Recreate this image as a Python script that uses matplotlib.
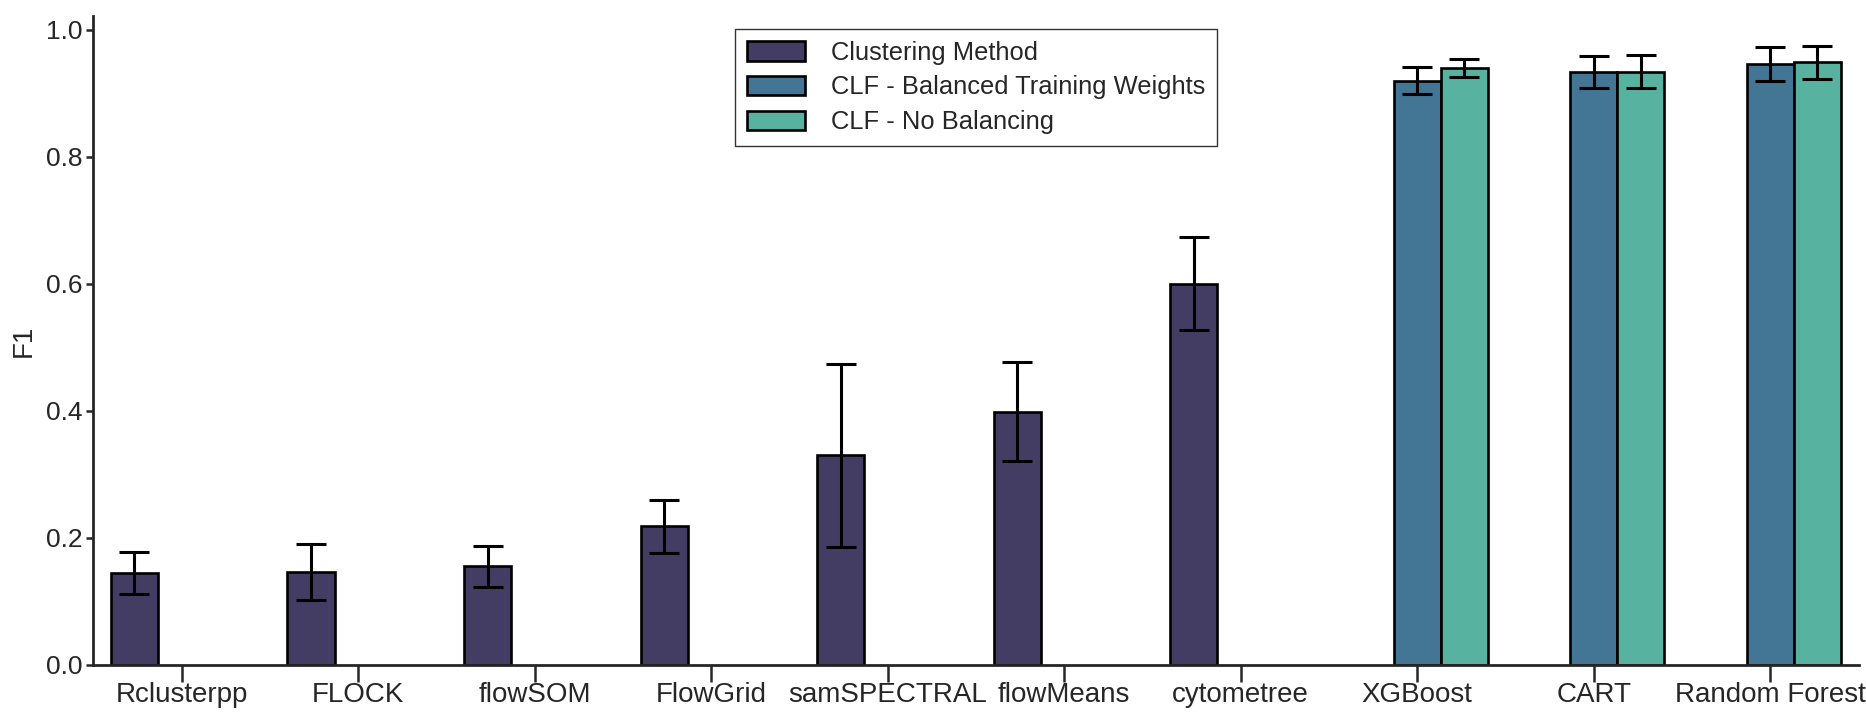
import numpy as np
import matplotlib
matplotlib.use("Agg")
import matplotlib.pyplot as plt

# ____________________________ data ____________________________
methods = ["Rclusterpp", "FLOCK", "flowSOM", "FlowGrid", "samSPECTRAL",
           "flowMeans", "cytometree", "XGBoost", "CART", "Random Forest"]
hue_names = ["Clustering Method", "CLF - Balanced Training Weights", "CLF - No Balancing"]

cluster_f1 = [0.145, 0.147, 0.155, 0.218, 0.330, 0.399, 0.600]
cluster_err = [0.033, 0.044, 0.033, 0.041, 0.144, 0.078, 0.073]

clf_balanced_f1 = [0.920, 0.934, 0.946]
clf_balanced_err = [0.021, 0.025, 0.027]
clf_nobal_f1 = [0.940, 0.934, 0.949]
clf_nobal_err = [0.014, 0.026, 0.026]

colors = ["#433d63", "#437594", "#57b3a0"]

# ____________________________ plotting ____________________________
plt.rcParams["font.family"] = ["Liberation Sans", "DejaVu Sans"]
plt.rcParams["text.color"] = "#262626"
plt.rcParams["axes.labelcolor"] = "#262626"
plt.rcParams["xtick.color"] = "#262626"
plt.rcParams["ytick.color"] = "#262626"

fig = plt.figure(figsize=(18.66, 7.15), dpi=100)
ax = fig.add_axes([0.050, 0.070, 0.946, 0.907])

w = 0.8 / 3
x = np.arange(len(methods))
n_clu = len(cluster_f1)
x_clu = x[:n_clu] - w
x_clf = x[n_clu:]

err_kw = dict(fmt="none", ecolor="black", elinewidth=2.2, capsize=11, capthick=2.2, zorder=3)
bar_kw = dict(width=w, edgecolor="black", linewidth=1.9, zorder=2)

ax.bar(x_clu, cluster_f1, color=colors[0], label=hue_names[0], **bar_kw)
ax.errorbar(x_clu, cluster_f1, yerr=cluster_err, **err_kw)

ax.bar(x_clf, clf_balanced_f1, color=colors[1], label=hue_names[1], **bar_kw)
ax.errorbar(x_clf, clf_balanced_f1, yerr=clf_balanced_err, **err_kw)

ax.bar(x_clf + w, clf_nobal_f1, color=colors[2], label=hue_names[2], **bar_kw)
ax.errorbar(x_clf + w, clf_nobal_f1, yerr=clf_nobal_err, **err_kw)

ax.set_xlim(-0.5, 9.5)
ax.set_ylim(0, 1.021)
ax.set_xticks(x)
ax.set_xticklabels(methods, fontsize=20)
ax.set_yticks(np.arange(0, 1.01, 0.2))
ax.set_yticklabels(["%.1f" % v for v in np.arange(0, 1.01, 0.2)], fontsize=19)
ax.set_ylabel("F1", fontsize=20, labelpad=6)

ax.tick_params(axis="x", length=12, width=1.8, pad=0.5)
ax.tick_params(axis="y", length=5, width=1.8, pad=3)
for s in ["top", "right"]:
    ax.spines[s].set_visible(False)
for s in ["left", "bottom"]:
    ax.spines[s].set_linewidth(2)
    ax.spines[s].set_color("#262626")

leg = ax.legend(loc="upper center", bbox_to_anchor=(0.5, 1.0), fontsize=18.4,
                fancybox=False, framealpha=1, edgecolor="#333333",
                handlelength=2.3, handleheight=0.8, borderpad=0.45, labelspacing=0.42,
                handletextpad=1.0)
leg.get_frame().set_linewidth(1.0)

plt.savefig("out.png", dpi=100)
